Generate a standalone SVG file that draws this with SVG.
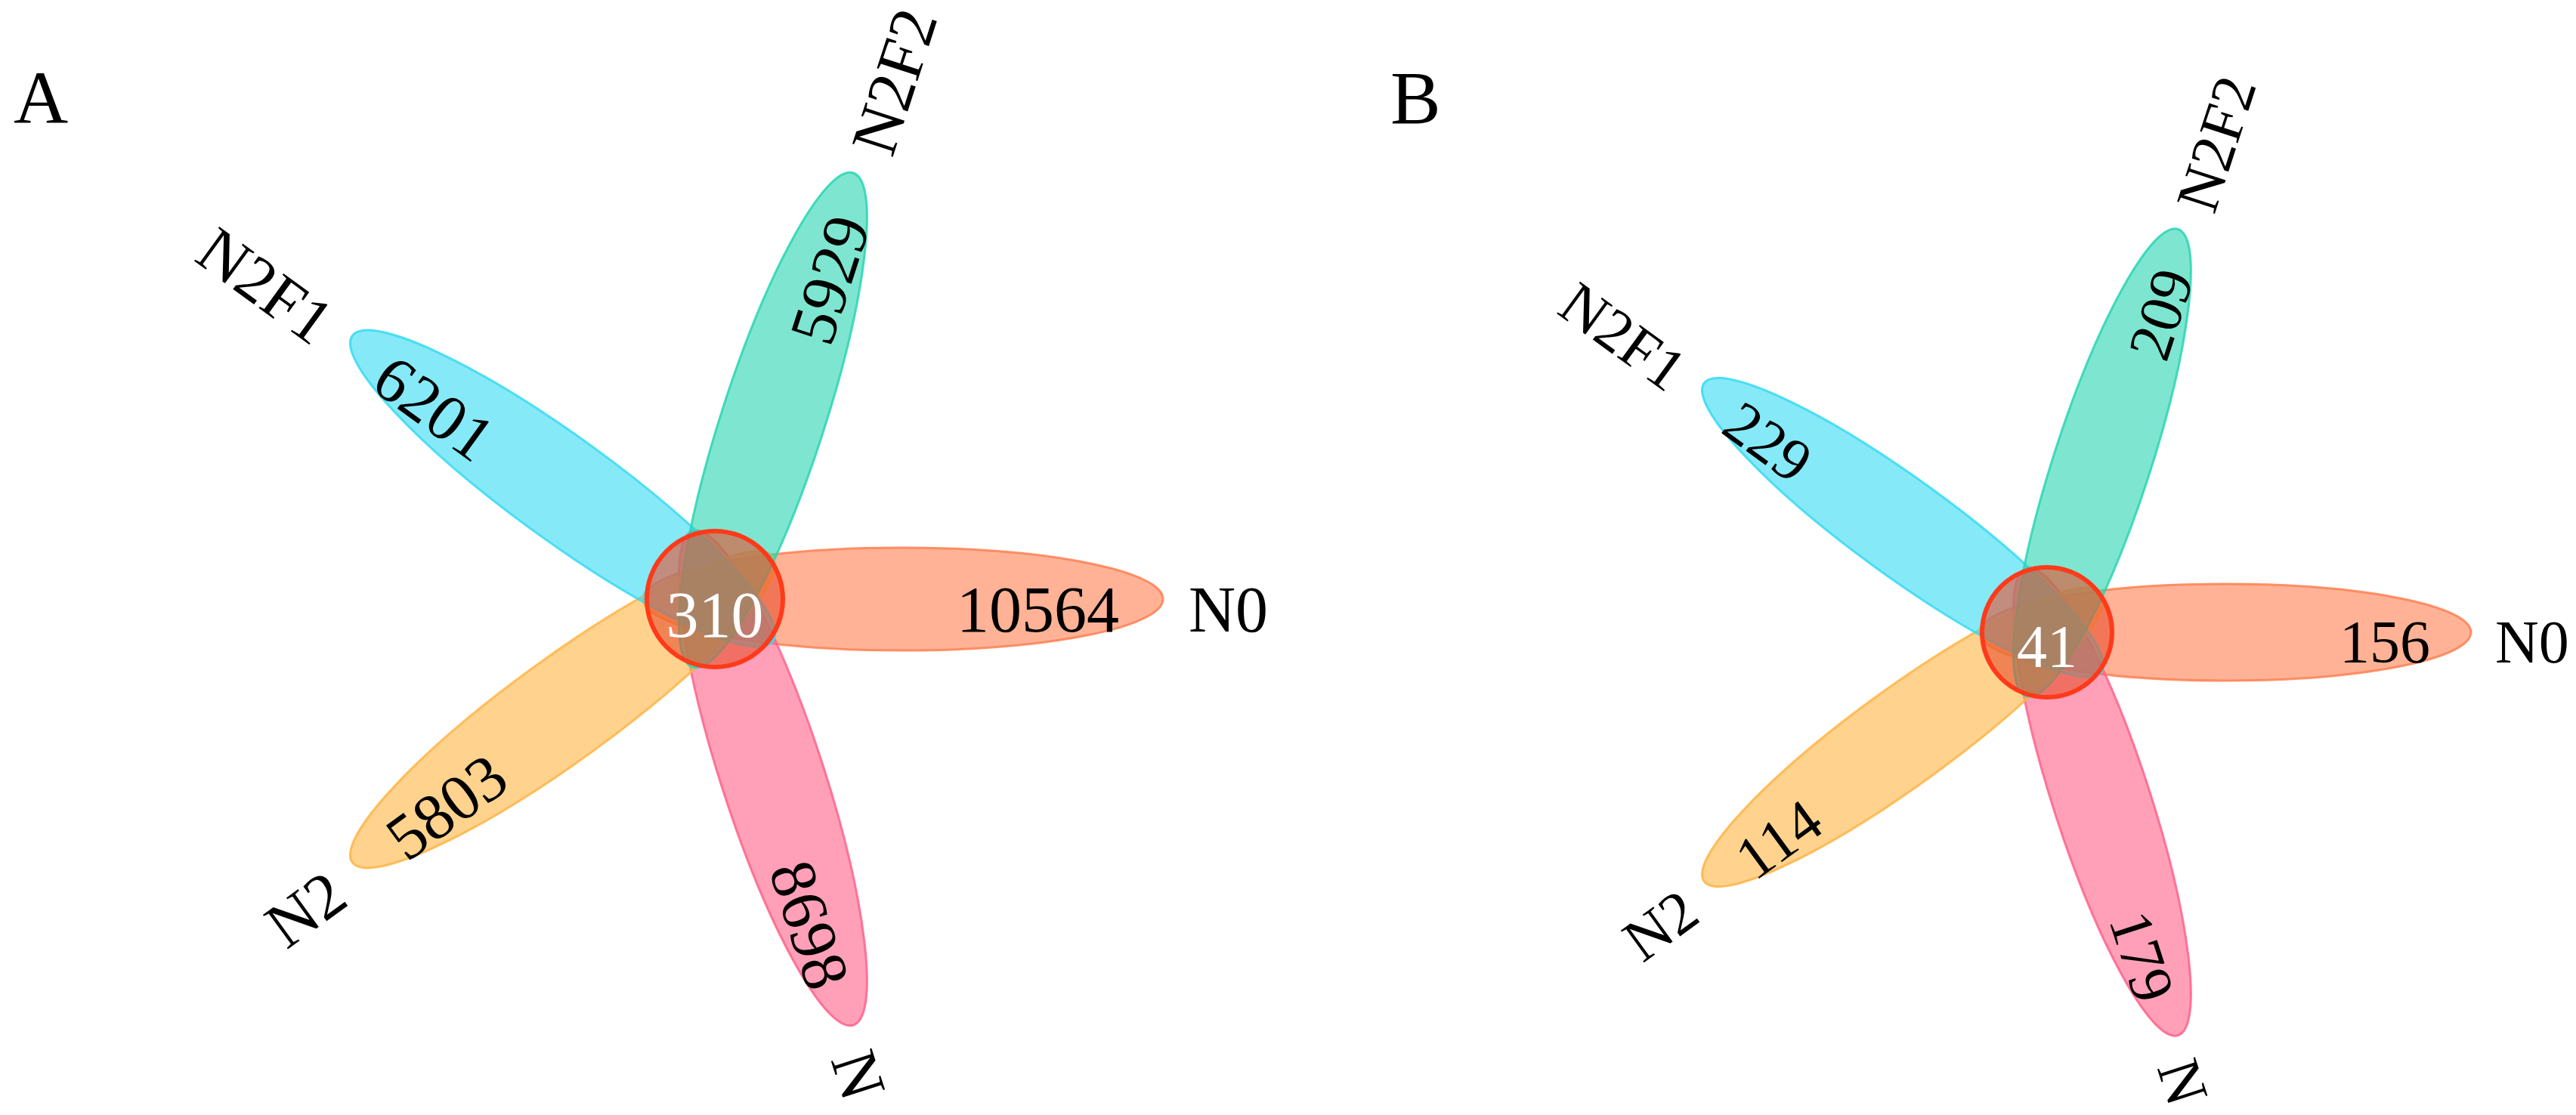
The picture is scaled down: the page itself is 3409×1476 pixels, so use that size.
<svg xmlns="http://www.w3.org/2000/svg" width="3409" height="1476" viewBox="0 0 3409 1476">
<style>
  text { font-family: "Liberation Serif", "Times New Roman", serif; fill: #000; }
  .pa { font-size: 86px; }
  .pb { font-size: 80px; }
  .panel { font-size: 100px; }
  .core { fill: #ffffff; text-anchor: middle; }
  .s { text-anchor: start; }
  .e { text-anchor: end; }
  .p { fill-opacity: 0.6; stroke-width: 3; stroke-opacity: 0.85; }
  .n0 { fill: #FF7F50; stroke: #FF7F50; }
  .nn { fill: #FF6189; stroke: #FF6189; }
  .n2 { fill: #FFB443; stroke: #FFB443; }
  .f1 { fill: #35DAF2; stroke: #35DAF2; }
  .f2 { fill: #28D5B1; stroke: #28D5B1; }
  .ring { fill: #E8502E; fill-opacity: 0.6; stroke: #FF3A1A; stroke-width: 6; }
</style>
<rect width="3409" height="1476" fill="#ffffff"/>
<g id="connectors"/>

<text class="panel" x="18" y="163">A</text>
<text class="panel" x="1840" y="163">B</text>

<!-- Panel A -->
<g id="A-N0">
  <ellipse class="p n0" cx="249" cy="0" rx="344" ry="68" transform="translate(946,793)"/>
  <text class="pa e" transform="translate(1481,793)" y="43">10564</text>
  <text class="pa s" transform="translate(1573,793)" y="43">N0</text>
</g>
<g id="A-N">
  <ellipse class="p nn" cx="249" cy="0" rx="344" ry="68" transform="translate(946,793) rotate(72)"/>
  <text class="pa e" transform="translate(1111.3,1301.8) rotate(72)" y="43">8698</text>
  <text class="pa s" transform="translate(1139.8,1389.3) rotate(72)" y="43">N</text>
</g>
<g id="A-N2">
  <ellipse class="p n2" cx="249" cy="0" rx="344" ry="68" transform="translate(946,793) rotate(144)"/>
  <text class="pa s" transform="translate(513.2,1107.5) rotate(-36)" y="43">5803</text>
  <text class="pa e" transform="translate(438.7,1161.5) rotate(-36)" y="43">N2</text>
</g>
<g id="A-N2F1">
  <ellipse class="p f1" cx="249" cy="0" rx="344" ry="68" transform="translate(946,793) rotate(216)"/>
  <text class="pa s" transform="translate(513.2,478.5) rotate(36)" y="43">6201</text>
  <text class="pa e" transform="translate(438.7,424.5) rotate(36)" y="43">N2F1</text>
</g>
<g id="A-N2F2">
  <ellipse class="p f2" cx="249" cy="0" rx="344" ry="68" transform="translate(946,793) rotate(288)"/>
  <text class="pa e" transform="translate(1111.3,284.2) rotate(-72)" y="43">5929</text>
  <text class="pa s" transform="translate(1139.8,196.7) rotate(-72)" y="43">N2F2</text>
</g>
<g id="A-core">
  <circle class="ring" cx="946" cy="793" r="90"/>
  <text class="pa core" x="946" y="843">310</text>
</g>

<!-- Panel B -->
<g id="B-N0">
  <ellipse class="p n0" cx="236" cy="0" rx="325" ry="64" transform="translate(2709,837)"/>
  <text class="pb e" transform="translate(3216,837)" y="40">156</text>
  <text class="pb s" transform="translate(3302,837)" y="40">N0</text>
</g>
<g id="B-N">
  <ellipse class="p nn" cx="236" cy="0" rx="325" ry="64" transform="translate(2709,837) rotate(72)"/>
  <text class="pb e" transform="translate(2865.7,1319.2) rotate(72)" y="40">179</text>
  <text class="pb s" transform="translate(2892.2,1401) rotate(72)" y="40">N</text>
</g>
<g id="B-N2">
  <ellipse class="p n2" cx="236" cy="0" rx="325" ry="64" transform="translate(2709,837) rotate(144)"/>
  <text class="pb s" transform="translate(2298.8,1135) rotate(-36)" y="40">114</text>
  <text class="pb e" transform="translate(2229.3,1185.6) rotate(-36)" y="40">N2</text>
</g>
<g id="B-N2F1">
  <ellipse class="p f1" cx="236" cy="0" rx="325" ry="64" transform="translate(2709,837) rotate(216)"/>
  <text class="pb s" transform="translate(2298.8,539) rotate(36)" y="40">229</text>
  <text class="pb e" transform="translate(2229.3,488.4) rotate(36)" y="40">N2F1</text>
</g>
<g id="B-N2F2">
  <ellipse class="p f2" cx="236" cy="0" rx="325" ry="64" transform="translate(2709,837) rotate(288)"/>
  <text class="pb e" transform="translate(2865.7,354.8) rotate(-72)" y="40">209</text>
  <text class="pb s" transform="translate(2892.2,273) rotate(-72)" y="40">N2F2</text>
</g>
<g id="B-core">
  <circle class="ring" cx="2709" cy="837" r="86"/>
  <text class="pb core" x="2709" y="883">41</text>
</g>
</svg>
